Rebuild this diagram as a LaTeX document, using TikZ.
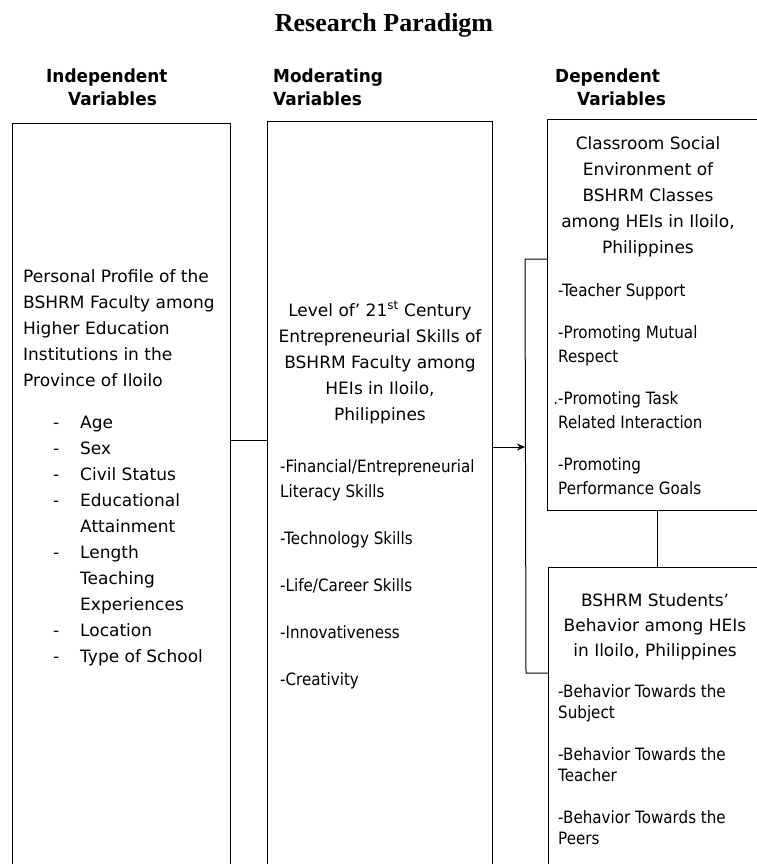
\documentclass[tikz,border=0pt]{standalone}
\usepackage{fontspec}
\setmainfont{DejaVu Sans}
\newfontfamily\listfont{DejaVu Sans}[FakeStretch=0.89]
\newfontfamily\headfont{DejaVu Sans}[FakeStretch=0.94]
\newfontfamily\titlefont{Liberation Serif}
\usetikzlibrary{arrows.meta,calc}

\begin{document}
\begin{tikzpicture}[x=1pt,y=-1pt]
    \tikzstyle{block} = [rectangle, draw=black, line width=1pt, anchor=north west, inner sep=0pt]
    \tikzstyle{heading} = [anchor=base west, align=left, inner sep=0pt, font=\headfont\bfseries\fontsize{18pt}{23pt}\selectfont]
    \tikzstyle{maintext} = [inner sep=0pt, font=\fontsize{17pt}{26pt}\selectfont]
    \tikzstyle{listtext} = [anchor=base west, align=left, inner sep=0pt, font=\listfont\fontsize{17pt}{25pt}\selectfont]
    \tikzstyle{link} = [line width=1pt]
    \tikzstyle{arrow} = [line width=1pt, -{Stealth[length=8pt,width=7pt]}]

    \useasboundingbox (0,0) rectangle (757,864);
    \clip (0,0) rectangle (757,864);

    % text nodes are placed by the baseline of their last line
    \node (title) [anchor=base, inner sep=0pt, font=\titlefont\bfseries\fontsize{26pt}{30pt}\selectfont] at (384,32) {Research Paradigm};

    \node (indephead) [heading] at (46,106) {Independent\\\hspace*{22pt}Variables};
    \node (moderhead) [heading] at (273,106) {Moderating\\Variables};
    \node (dephead) [heading] at (555,106) {Dependent\\\hspace*{22pt}Variables};

    % the four boxes
    \node (profile) [block, minimum width=218pt, minimum height=780pt] at (12,123) {};
    \node (skills) [block, minimum width=225pt, minimum height=780pt] at (267,121) {};
    \node (climate) [block, minimum width=220pt, minimum height=391pt] at (547,119) {};
    \node (behavior) [block, minimum width=218pt, minimum height=340pt] at (548,567) {};

    \node (profiletext) [maintext, anchor=base west, align=left] at (23,386) {Personal Profile of the\\BSHRM Faculty among\\Higher Education\\Institutions in the\\Province of Iloilo};
    \node (profilelist) [maintext, anchor=base west, align=left] at (53,662) {\makebox[27pt][l]{-}Age\\\makebox[27pt][l]{-}Sex\\\makebox[27pt][l]{-}Civil Status\\\makebox[27pt][l]{-}Educational\\\hspace*{27pt}Attainment\\\makebox[27pt][l]{-}Length\\\hspace*{27pt}Teaching\\\hspace*{27pt}Experiences\\\makebox[27pt][l]{-}Location\\\makebox[27pt][l]{-}Type of School};

    \node (skillstext) [maintext, anchor=base, align=center] at (380,420) {Level of’ 21\textsuperscript{st} Century\\Entrepreneurial Skills of\\BSHRM Faculty among\\HEIs in Iloilo,\\Philippines};
    \node (skillslist) [listtext] at (280,685) {-Financial/Entrepreneurial\\Literacy Skills\\[22pt]-Technology Skills\\[22pt]-Life/Career Skills\\[22pt]-Innovativeness\\[22pt]-Creativity};

    \node (climatetext) [maintext, anchor=base, align=center] at (648,253) {Classroom Social\\Environment of\\BSHRM Classes\\among HEIs in Iloilo,\\Philippines};
    \node (climatelist) [listtext, font=\listfont\fontsize{17pt}{24pt}\selectfont] at (558,494) {-Teacher Support\\[18pt]-Promoting Mutual\\Respect\\[18pt]\llap{.}-Promoting Task\\Related Interaction\\[18pt]-Promoting\\Performance Goals};

    \node (behaviortext) [maintext, anchor=base, align=center, font=\fontsize{17pt}{25pt}\selectfont] at (655,656) {BSHRM Students’\\Behavior among HEIs\\in Iloilo, Philippines};
    \node (behaviorlist) [listtext, font=\listfont\fontsize{17pt}{21pt}\selectfont] at (558,844) {-Behavior Towards the\\Subject\\[21pt]-Behavior Towards the\\Teacher\\[21pt]-Behavior Towards the\\Peers};

    % connectors
    \coordinate (join) at (0,440);
    \coordinate (feed) at (525,447);
    \coordinate (bustop) at (525,259);
    \coordinate (busbottom) at (526,673);

    \draw [link] (profile.east |- join) -- (skills.west |- join);
    \draw [arrow] (skills.east |- feed) -- (feed);
    \draw [link] (climate.west |- bustop) -- (bustop) -- (busbottom) -- (behavior.west |- busbottom);
    \draw [link] (climate.south) -- (behavior.north);

\end{tikzpicture}
\end{document}
